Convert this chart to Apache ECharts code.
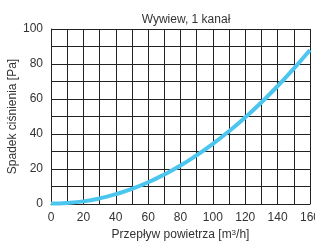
<!DOCTYPE html>
<html><head><meta charset="utf-8">
<script src="https://cdn.jsdelivr.net/npm/echarts@6/dist/echarts.min.js"></script>
<style>html,body{margin:0;padding:0;background:#fff}#c{width:315px;height:242px}</style>
</head><body><div id="c"></div>
<script>
const title = "Wywiew, 1 kanał";
const xName = "Przepływ powietrza [m{sup|3}/h]";
const yName = "Spadek ciśnienia [Pa]";
const flow = [0,10,20,30,40,50,60,70,80,90,100,110,120,130,140,150,160];
const pressure = [0.3,0.6,1.5,3.2,5.6,8.6,12.4,16.9,22,27.9,34.4,41.6,49.5,58.1,67.4,77.4,88];
const data = flow.map((x,i)=>[x,pressure[i]]);
const font = "Liberation Sans, Arial, sans-serif";
const chart = echarts.init(document.getElementById('c'), null, {renderer:'canvas'});
chart.setOption({
  animation:false,
  title:{text:title,left:181,top:9,textAlign:'center',textStyle:{fontSize:12,fontWeight:'normal',color:'#333',fontFamily:font}},
  grid:{left:51,right:5,top:29,bottom:38,containLabel:false,outerBoundsMode:'none'},
  xAxis:{type:'value',min:0,max:160,interval:10,
    name:xName,nameLocation:'middle',nameGap:25,
    nameTextStyle:{fontSize:12,color:'#333',fontFamily:font,
      rich:{sup:{fontSize:8,color:'#333',fontFamily:font,verticalAlign:'top',padding:[0,0,4,0]}}},
    axisLine:{show:true,lineStyle:{color:'#222',width:1}},axisTick:{show:false},
    axisLabel:{fontSize:12,color:'#333',fontFamily:font,margin:8,formatter:v=>v%20===0?String(v):''},
    splitLine:{show:true,lineStyle:{color:'#222',width:1}}},
  yAxis:{type:'value',min:0,max:100,interval:10,
    name:yName,nameLocation:'middle',nameGap:32,nameMoveOverlap:false,nameTextStyle:{fontSize:12,color:'#333',fontFamily:font},
    axisLine:{show:true,lineStyle:{color:'#222',width:1}},axisTick:{show:false},
    axisLabel:{fontSize:12,color:'#333',fontFamily:font,margin:8,formatter:v=>v%20===0?String(v):''},
    splitLine:{show:true,lineStyle:{color:'#222',width:1}}},
  series:[{type:'line',data:data,smooth:true,showSymbol:false,lineStyle:{color:'#4cc6ef',width:4}}]
});
</script></body></html>
